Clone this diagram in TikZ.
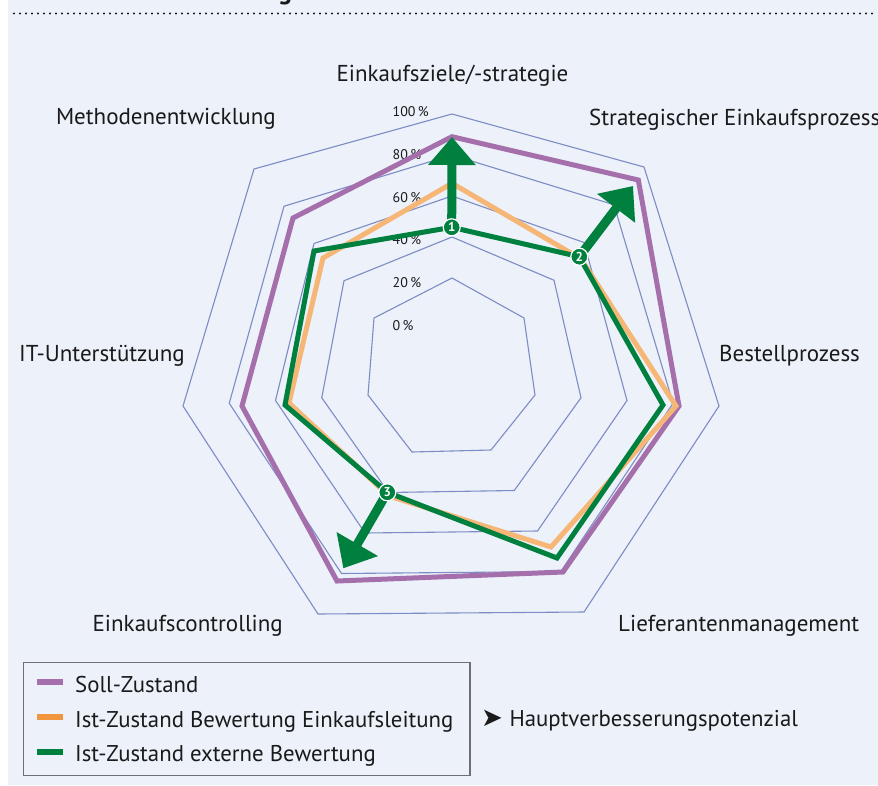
\documentclass[tikz,border=0pt]{standalone}
\usepackage{fontspec}
\setmainfont{PT Sans}
\newfontfamily\symfont{DejaVu Sans}
\usetikzlibrary{arrows.meta,calc}
\definecolor{bgc}{RGB}{236,241,250}
\definecolor{gridc}{RGB}{125,140,195}
\definecolor{soll}{RGB}{165,111,172}
\definecolor{istl}{RGB}{246,182,118}
\definecolor{istlleg}{RGB}{240,150,60}
\definecolor{iste}{RGB}{0,128,62}
\definecolor{txt}{RGB}{26,26,26}
\tikzset{
  gridline/.style={draw=gridc, line width=1.1pt, line join=miter},
  series/.style={line width=5pt, line join=miter},
  axlabel/.style={text=txt, inner sep=0pt, font=\fontsize{23}{27}\selectfont},
  pctlabel/.style={text=txt, inner sep=0pt, anchor=base west, font=\fontsize{14}{16}\selectfont},
  leglabel/.style={text=txt, inner sep=0pt, anchor=base west, font=\fontsize{22.8}{27}\selectfont},
  swatch/.style={line width=6pt},
  bigarrow/.style={draw=iste, line width=9pt, -{Triangle[width=46pt,length=28pt]}},
  marker/.style={circle, fill=iste, draw=white, line width=1.2pt, inner sep=0pt, minimum size=17pt, text=white, font=\fontsize{13}{13}\bfseries\selectfont},
}
\begin{document}
\begin{tikzpicture}[x=1pt,y=-1pt]
\useasboundingbox (0,0) rectangle (878,785);
\fill[bgc] (8,0) rectangle (878,785);
% cut-off title descender
\node[anchor=base, inner sep=0pt, font=\fontsize{26}{26}\bfseries\selectfont, text=txt] (ttl) at (285,-1) {g};
\draw[txt, line width=2.2pt, line cap=round, dash pattern=on 0pt off 6pt] (14,13.5) -- (876,13.5);

% axes: inner (20%) and outer (100%) vertices
\coordinate (I0) at (452,278); \coordinate (O0) at (452,114);
\coordinate (I1) at (524,318); \coordinate (O1) at (644,167);
\coordinate (I2) at (535,395); \coordinate (O2) at (719,406);
\coordinate (I3) at (491,450); \coordinate (O3) at (584,612);
\coordinate (I4) at (412,452); \coordinate (O4) at (318,614);
\coordinate (I5) at (368,395); \coordinate (O5) at (183,406);
\coordinate (I6) at (374,318); \coordinate (O6) at (254,169);

\foreach \t in {0,0.25,0.5,0.75,1}{
  \draw[gridline] ($(I0)!\t!(O0)$) -- ($(I1)!\t!(O1)$) -- ($(I2)!\t!(O2)$) -- ($(I3)!\t!(O3)$) -- ($(I4)!\t!(O4)$) -- ($(I5)!\t!(O5)$) -- ($(I6)!\t!(O6)$) -- cycle;
}

% percentage labels
\node[pctlabel] (p100) at (392.5,116.7) {100\,\%};
\node[pctlabel] (p80) at (392.5,159) {80\,\%};
\node[pctlabel] (p60) at (392.5,202.3) {60\,\%};
\node[pctlabel] (p40) at (392.5,244.3) {40\,\%};
\node[pctlabel] (p20) at (392.5,287.3) {20\,\%};
\node[pctlabel] (p0) at (392.5,330.7) {0\,\%};

% series
\draw[series, soll] (452,136.7) -- (638.3,180) -- (679,406) -- (563,572) -- (337,581) -- (242,406) -- (293,218) -- cycle;
\draw[series, istl] (452,183.3) -- (581,259) -- (676,406) -- (551,547) -- (389,496) -- (289,403) -- (323,258) -- cycle;
\coordinate (q1) at (451.7,227.3);
\coordinate (q2) at (579.3,256.7);
\coordinate (q3) at (387.3,492.3);
\draw[series, iste] (q1) -- (q2) -- (663,405) -- (557,558) -- (q3) -- (285,405) -- (314,251) -- cycle;

% improvement arrows
\coordinate (t1) at (452,137);
\coordinate (t2) at (633,186);
\coordinate (t3) at (343.3,568.3);
\draw[bigarrow] (q1) -- (t1);
\draw[bigarrow] (q2) -- (t2);
\draw[bigarrow] (q3) -- (t3);
\node[marker] (m1) at (q1) {1};
\node[marker] (m2) at (q2) {2};
\node[marker] (m3) at (q3) {3};

% axis labels
\node[axlabel, anchor=base] (a0) at (452.5,81.7) {Einkaufsziele/-strategie};
\node[axlabel, anchor=base west] (a1) at (589,125) {Strategischer Einkaufsprozess};
\node[axlabel, anchor=base west] (a2) at (719,361) {Bestellprozess};
\node[axlabel, anchor=base west] (a3) at (618,631) {Lieferantenmanagement};
\node[axlabel, anchor=base east] (a4) at (283,631) {Einkaufscontrolling};
\node[axlabel, anchor=base east] (a5) at (185,361) {IT-Unterstützung};
\node[axlabel, anchor=base east] (a6) at (276,124) {Methodenentwicklung};

% legend
\draw[draw={rgb,255:red,110;green,110;blue,115}, line width=1.3pt] (23.3,662.3) rectangle (470,775.7);
\draw[swatch, soll] (37,681.7) -- (63,681.7);
\draw[swatch, istlleg] (37,716.7) -- (63,716.7);
\draw[swatch, iste] (37,752.3) -- (63,752.3);
\node[leglabel] (l1) at (75,692.3) {Soll-Zustand};
\node[leglabel] (l2) at (75,727.3) {Ist-Zustand Bewertung Einkaufsleitung};
\node[leglabel] (l3) at (75,761.7) {Ist-Zustand externe Bewertung};
\node[leglabel, font=\fontsize{26}{28}\symfont] (l4) at (481,726) {➤};
\node[leglabel] (l5) at (509.3,726) {Hauptverbesserungspotenzial};
\end{tikzpicture}
\end{document}
